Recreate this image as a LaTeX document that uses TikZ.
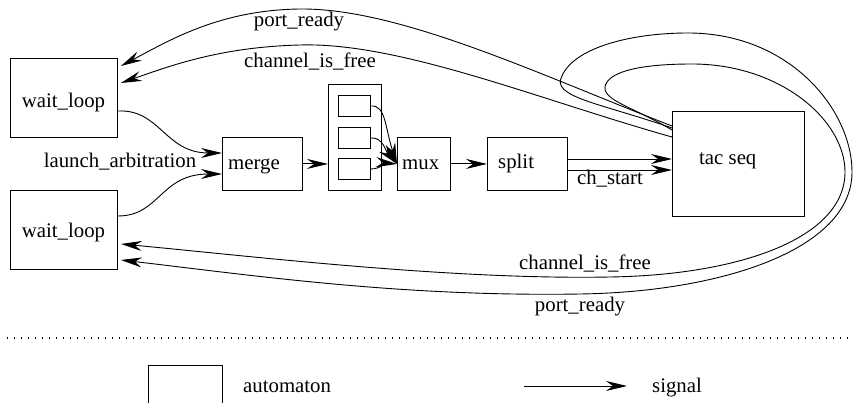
\documentclass[tikz,border=0pt]{standalone}
\usepackage{fontspec}
\setmainfont{Liberation Serif}
\newfontfamily\tms{Liberation Serif}
\usetikzlibrary{arrows.meta}
\begin{document}
\begin{tikzpicture}[x=1pt,y=-1pt,
  every node/.style={font=\tms\fontsize{20.8}{24}\selectfont, inner sep=0pt},
  box/.style={draw, line width=0.9pt, rectangle, anchor=north west},
  lbl/.style={anchor=base},
  sig/.style={line width=0.9pt, -{Stealth[length=21pt,width=10pt,inset=7pt]}},
  wire/.style={line width=0.9pt}]
\useasboundingbox (0,0) rectangle (854,403);
% boxes
\node[box, minimum width=107pt, minimum height=79pt] (wl1) at (10,58) {};
\node[box, minimum width=107pt, minimum height=79pt] (wl2) at (10,190) {};
\node[box, minimum width=80pt, minimum height=53pt] (merge) at (222,137) {};
\node[box, minimum width=53pt, minimum height=106pt] (cont) at (328,84) {};
\node[box, minimum width=32pt, minimum height=21pt] (q1) at (338,95) {};
\node[box, minimum width=32pt, minimum height=21pt] (q2) at (338,127) {};
\node[box, minimum width=32pt, minimum height=21pt] (q3) at (338,158) {};
\node[box, minimum width=53pt, minimum height=53pt] (mux) at (397,137) {};
\node[box, minimum width=80pt, minimum height=53pt] (split) at (487,137) {};
\node[box, minimum width=132pt, minimum height=105pt] (tac) at (672,111) {};
% box texts
\node[lbl] (wl1t) at (63.5,108) {wait\_loop};
\node[lbl] (wl2t) at (63.5,238) {wait\_loop};
\node[lbl, anchor=base west] (merget) at (228,170) {merge};
\node[lbl, anchor=base west] (muxt) at (402,170) {mux};
\node[lbl, anchor=base west] (splitt) at (498,169) {split};
\node[lbl, anchor=base west] (tact) at (699,165) {tac seq};
% connection points
\coordinate (tA) at ([yshift=-15pt]tac.north west);
\coordinate (tB) at ([yshift=-17pt]tac.north west);
\coordinate (tC) at ([yshift=-19pt]tac.north west);
\coordinate (tD) at ([yshift=-26pt]tac.north west);
\coordinate (wl1a) at ([xshift=3pt,yshift=-8pt]wl1.north east);
\coordinate (wl1b) at ([xshift=3pt,yshift=-25pt]wl1.north east);
\coordinate (wl2a) at ([xshift=3pt,yshift=-54pt]wl2.north east);
\coordinate (wl2b) at ([xshift=3pt,yshift=-70pt]wl2.north east);
% wait_loop -> merge
\draw[sig] ([yshift=-53pt]wl1.north east) .. controls (160,109) and (165,153) .. ([yshift=-16pt]merge.north west);
\draw[sig] ([yshift=-26pt]wl2.north east) .. controls (160,216) and (160,174) .. ([yshift=-37pt]merge.north west);
\node[lbl] (la) at (120,168) {launch\_arbitration};
% chain
\draw[sig] (merge.east) -- (cont.west |- merge.east);
\draw[sig] (q1.east) .. controls (386,105) and (385,128) .. (mux.west);
\draw[sig] (q2.east) .. controls (383,137) and (386,152) .. (mux.west);
\draw[sig] (q3.east) .. controls (380,169) and (386,163) .. (mux.west);
\draw[sig] (mux.east) -- (split.west);
\draw[sig] ([yshift=-22pt]split.north east) -- ([yshift=-22pt]split.north east -| tac.west);
\draw[sig] ([yshift=-33pt]split.north east) -- ([yshift=-33pt]split.north east -| tac.west);
\node[lbl] (chs) at (610,185) {ch\_start};
% top feedback
\draw[sig] (tA) .. controls (540,75) and (400,8) .. (300,9) .. controls (220,10) and (170,40) .. (wl1a);
\draw[sig] (tD) .. controls (540,100) and (400,42) .. (300,45) .. controls (220,47) and (170,66) .. (wl1b);
\node[lbl] (pr1) at (299,27) {port\_ready};
\node[lbl] (cf1) at (310,68) {channel\_is\_free};
% loops to bottom wait_loop
\draw[sig] (tB) .. controls (600,103) and (550,97) .. (562,76) .. controls (574,48) and (630,33) .. (688,33) .. controls (790,33) and (852,110) .. (852,172) .. controls (852,250) and (720,292) .. (580,294) .. controls (400,297) and (250,275) .. (wl2b);
\draw[sig] (tC) .. controls (630,105) and (596,99) .. (607,82) .. controls (616,69) and (650,64) .. (692,64) .. controls (780,64) and (845,120) .. (845,172) .. controls (845,238) and (740,275) .. (610,277) .. controls (450,280) and (250,256) .. (wl2a);
\node[lbl] (cf2) at (585,270) {channel\_is\_free};
\node[lbl] (pr2) at (580,312) {port\_ready};
% separator
\draw[line width=1.1pt, dash pattern=on 1.2pt off 5.8pt] (7,338) -- (854,338);
% legend
\node[box, minimum width=74pt, minimum height=44pt] (legbox) at (148,365) {};
\node[lbl, anchor=base west] (legauto) at (243,392) {automaton};
\coordinate (lega) at (524,386);
\coordinate (legb) at (627,386);
\draw[sig] (lega) -- (legb);
\node[lbl, anchor=base west] (legsig) at (652,392) {signal};
\end{tikzpicture}
\end{document}
